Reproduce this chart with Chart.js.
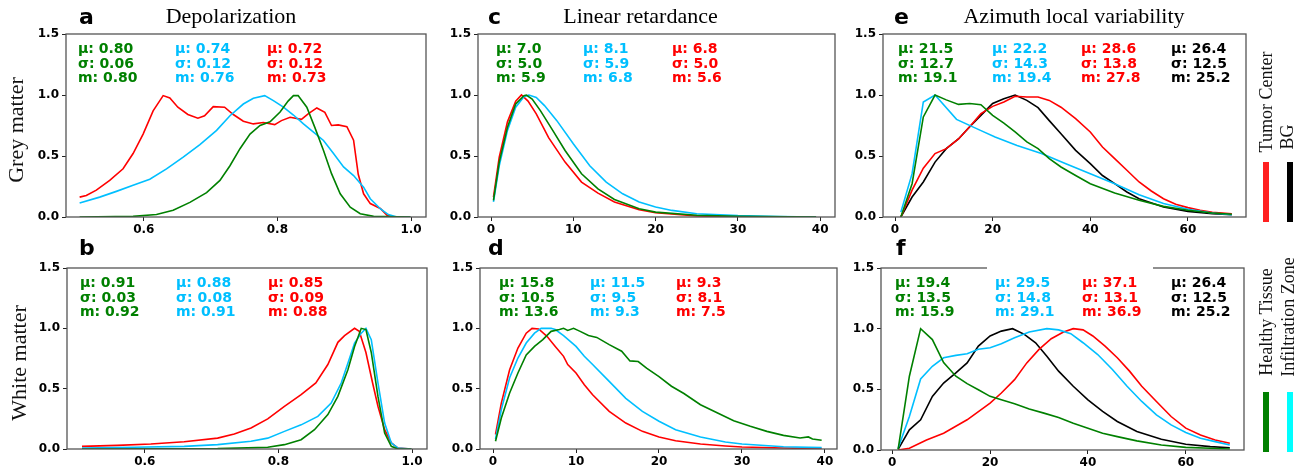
<!DOCTYPE html>
<html><head><meta charset="utf-8">
<script src="https://cdn.jsdelivr.net/npm/chart.js@4.4.0/dist/chart.umd.min.js"></script>
<style>
body{margin:0;background:#fff;width:1303px;height:468px;overflow:hidden;position:relative;}
.ann{position:absolute;font:bold 14px 'DejaVu Sans';line-height:14.4px;white-space:nowrap;z-index:3;}
.letter{position:absolute;font:bold 22px 'DejaVu Sans';line-height:22px;z-index:3;}
.title{position:absolute;font:22px 'Liberation Serif';line-height:22px;transform:translateX(-50%);white-space:nowrap;z-index:3;}
.rot{position:absolute;font-family:'Liberation Serif';line-height:1;white-space:nowrap;transform:translate(-50%,-50%) rotate(-90deg);color:#111;z-index:3;}
.bar{position:absolute;width:6px;}
.mask{position:absolute;background:#fff;z-index:2;}
</style></head><body>
<script>
// ---------- DATA ----------
const yTicks = [0, 0.5, 1.0, 1.5];
const depTicks = [0.6, 0.8, 1.0];
const retTicks = [0, 10, 20, 30, 40];
const aziTicks = [0, 20, 40, 60];

const panelLetters = ['a','b','c','d','e','f'];
const columnTitles = ['Depolarization','Linear retardance','Azimuth local variability'];
const rowLabels = ['Grey matter','White matter'];
const legendTop = ['Tumor Center','BG'];
const legendBottom = ['Healthy Tissue','Infiltration Zone'];
const statLabels = ['\u03bc','\u03c3','m'];

// stats per panel: [green, cyan, red, (black)] each [mu, sigma, median]
const statsA = [['0.80','0.06','0.80'],['0.74','0.12','0.76'],['0.72','0.12','0.73']];
const statsB = [['0.91','0.03','0.92'],['0.88','0.08','0.91'],['0.85','0.09','0.88']];
const statsC = [['7.0','5.0','5.9'],['8.1','5.9','6.8'],['6.8','5.0','5.6']];
const statsD = [['15.8','10.5','13.6'],['11.5','9.5','9.3'],['9.3','8.1','7.5']];
const statsE = [['21.5','12.7','19.1'],['22.2','14.3','19.4'],['28.6','13.8','27.8'],['26.4','12.5','25.2']];
const statsF = [['19.4','13.5','15.9'],['29.5','14.8','29.1'],['37.1','13.1','36.9'],['26.4','12.5','25.2']];

// curves: [x, normalized density]
const aGreen = [[0.504,0],[0.584,0.005],[0.619,0.02],[0.644,0.055],[0.669,0.12],[0.694,0.20],[0.714,0.30],[0.729,0.42],[0.744,0.56],[0.759,0.68],[0.774,0.75],[0.789,0.78],[0.804,0.86],[0.816,0.95],[0.824,0.995],[0.831,0.995],[0.844,0.90],[0.856,0.735],[0.869,0.545],[0.881,0.355],[0.894,0.19],[0.909,0.08],[0.924,0.027],[0.944,0.005],[0.999,0]];
const aCyan = [[0.504,0.115],[0.534,0.163],[0.559,0.21],[0.584,0.26],[0.609,0.31],[0.634,0.395],[0.659,0.49],[0.684,0.594],[0.709,0.71],[0.729,0.83],[0.749,0.926],[0.764,0.973],[0.781,0.995],[0.794,0.954],[0.809,0.90],[0.824,0.836],[0.839,0.763],[0.854,0.695],[0.869,0.627],[0.884,0.52],[0.899,0.41],[0.914,0.34],[0.929,0.245],[0.939,0.15],[0.954,0.068],[0.966,0.02],[0.979,0],[0.999,0]];
const aRed = [[0.504,0.163],[0.514,0.177],[0.529,0.22],[0.549,0.30],[0.569,0.395],[0.584,0.52],[0.599,0.68],[0.614,0.87],[0.629,0.995],[0.639,0.975],[0.651,0.90],[0.666,0.84],[0.681,0.81],[0.691,0.83],[0.704,0.905],[0.721,0.90],[0.734,0.84],[0.749,0.785],[0.764,0.763],[0.779,0.774],[0.796,0.757],[0.806,0.79],[0.819,0.817],[0.836,0.80],[0.846,0.845],[0.859,0.894],[0.871,0.858],[0.881,0.75],[0.891,0.755],[0.904,0.74],[0.914,0.63],[0.921,0.35],[0.929,0.19],[0.939,0.11],[0.954,0.07],[0.964,0.015],[0.974,0],[0.999,0]];

const bGreen = [[0.506,0],[0.709,0.003],[0.784,0.014],[0.809,0.036],[0.834,0.077],[0.854,0.16],[0.874,0.285],[0.889,0.436],[0.904,0.657],[0.914,0.85],[0.924,1.0],[0.931,0.99],[0.939,0.80],[0.949,0.436],[0.959,0.133],[0.969,0.022],[0.979,0],[0.999,0]];
const bCyan = [[0.506,0.008],[0.584,0.014],[0.659,0.022],[0.709,0.036],[0.759,0.064],[0.784,0.09],[0.809,0.146],[0.834,0.20],[0.859,0.27],[0.879,0.38],[0.894,0.547],[0.904,0.71],[0.914,0.878],[0.924,0.96],[0.931,1.0],[0.939,0.906],[0.949,0.547],[0.959,0.215],[0.969,0.05],[0.979,0.008],[0.999,0]];
const bRed = [[0.506,0.022],[0.559,0.03],[0.609,0.041],[0.659,0.06],[0.709,0.09],[0.734,0.124],[0.759,0.174],[0.784,0.25],[0.809,0.354],[0.834,0.45],[0.856,0.547],[0.874,0.70],[0.889,0.884],[0.899,0.94],[0.914,1.0],[0.921,0.975],[0.931,0.80],[0.941,0.547],[0.949,0.354],[0.959,0.16],[0.969,0.05],[0.979,0.008],[0.999,0]];

const cGreen = [[0.3,0.136],[1,0.45],[2,0.735],[3,0.926],[4,0.995],[4.3,1.0],[5,0.967],[6,0.872],[7.5,0.71],[9,0.545],[11,0.354],[13,0.23],[15,0.144],[18,0.068],[20,0.04],[25,0.014],[30,0.005],[39.5,0]];
const cCyan = [[0.3,0.123],[1,0.42],[2,0.71],[3,0.9],[4,0.986],[4.6,1.0],[5.5,0.98],[6.5,0.913],[8,0.79],[10,0.60],[12,0.42],[14,0.286],[16,0.19],[18,0.123],[20,0.082],[22,0.054],[25,0.027],[30,0.011],[35,0.003],[39.5,0]];
const cRed = [[0.3,0.163],[1,0.49],[2,0.78],[3,0.95],[3.7,1.0],[4.5,0.95],[5.5,0.845],[7,0.65],[9,0.45],[11,0.286],[13,0.196],[15,0.123],[18,0.06],[20,0.035],[25,0.008],[30,0.002],[39.5,0]];

const dGreen = [[0.3,0.064],[1,0.257],[2,0.464],[3,0.63],[4,0.78],[5,0.85],[6,0.906],[7,0.975],[8,0.99],[8.5,1.0],[9,0.983],[9.7,1.0],[10.5,0.975],[11.5,0.94],[12.5,0.925],[14,0.865],[15.5,0.81],[16.5,0.73],[17.5,0.725],[18.5,0.67],[20,0.60],[21.5,0.52],[23,0.46],[25,0.367],[27,0.30],[29,0.235],[31,0.188],[33,0.146],[35,0.113],[37,0.091],[38,0.10],[38.5,0.083],[39.6,0.072]];
const dCyan = [[0.3,0.083],[1,0.326],[2,0.59],[3,0.754],[4,0.878],[5,0.96],[5.8,1.0],[7,1.0],[7.5,0.99],[8.5,0.94],[10,0.85],[11,0.768],[12,0.70],[14,0.56],[16,0.42],[18,0.312],[20,0.23],[22,0.16],[25,0.10],[28,0.058],[30,0.041],[35,0.019],[39.6,0.011]];
const dRed = [[0.3,0.12],[1,0.38],[2,0.657],[3,0.837],[4,0.96],[4.7,1.0],[5.5,0.995],[6.5,0.934],[7.5,0.85],[8.5,0.768],[9,0.70],[10,0.63],[11,0.533],[12,0.45],[14,0.312],[16,0.215],[18,0.146],[20,0.10],[22,0.069],[25,0.041],[28,0.025],[30,0.017],[35,0.008],[39.6,0.003]];

const eGreen = [[1.2,0],[3.5,0.273],[5.8,0.82],[8.2,1.0],[10.5,0.96],[13,0.923],[15.3,0.93],[17.6,0.92],[20,0.833],[22.3,0.77],[24.6,0.697],[27,0.615],[29.3,0.56],[31.6,0.478],[34,0.41],[37,0.34],[40,0.273],[45,0.197],[50,0.137],[55,0.087],[60,0.055],[65,0.033],[69,0.022]];
const eCyan = [[1.2,0.04],[3.5,0.355],[5.8,0.943],[8.2,1.0],[12.6,0.80],[17.5,0.71],[20.5,0.656],[25,0.587],[30,0.52],[35,0.437],[40,0.355],[45,0.273],[50,0.183],[55,0.11],[60,0.063],[65,0.033],[69,0.019]];
const eRed = [[1.2,0],[3.5,0.22],[5.8,0.40],[8.2,0.52],[10.5,0.56],[13,0.64],[15.3,0.74],[17.6,0.847],[20,0.907],[22.3,0.943],[24.6,0.99],[27,0.983],[29.3,0.983],[31.6,0.956],[34,0.90],[37,0.806],[40,0.697],[42.5,0.574],[45,0.478],[47.5,0.383],[50,0.287],[52.5,0.213],[55,0.15],[57.5,0.104],[60,0.077],[62.5,0.055],[65,0.038],[69,0.027]];
const eBlack = [[1.2,0],[3.5,0.164],[5.8,0.287],[8.2,0.45],[10.5,0.56],[13,0.64],[15.3,0.74],[17.6,0.833],[20,0.93],[22.3,0.97],[24.6,1.0],[27,0.956],[29.3,0.896],[31.6,0.79],[34,0.683],[37,0.546],[40,0.437],[42.5,0.34],[45,0.273],[47.5,0.205],[50,0.15],[55,0.082],[60,0.046],[65,0.027],[69,0.019]];

const fGreen = [[1.2,0.005],[3.5,0.608],[5.8,1.0],[8.2,0.91],[10.5,0.72],[13,0.608],[15.3,0.547],[17.6,0.497],[20,0.442],[22.3,0.414],[25,0.381],[28,0.337],[31,0.304],[34,0.268],[37,0.221],[40,0.18],[43,0.138],[46,0.11],[50,0.075],[55,0.041],[60,0.022],[65,0.014],[69,0.008]];
const fCyan = [[1.2,0.014],[3.5,0.276],[5.8,0.586],[8.2,0.69],[10.5,0.76],[13,0.78],[15.3,0.793],[17.6,0.83],[20,0.843],[22.3,0.876],[25,0.925],[28,0.972],[31.6,1.0],[34,0.99],[36.5,0.959],[39,0.884],[42,0.787],[45,0.663],[48,0.525],[51,0.40],[54,0.29],[57,0.207],[60,0.144],[63,0.097],[66,0.069],[69,0.041]];
const fRed = [[1.2,0],[3.5,0.014],[7,0.083],[10.5,0.138],[15.3,0.249],[20,0.387],[22.3,0.47],[25,0.58],[27.5,0.718],[30,0.829],[32.5,0.917],[35,0.972],[37,1.0],[39,0.99],[41,0.94],[43.5,0.856],[46,0.76],[48.5,0.65],[51,0.525],[54,0.40],[57,0.276],[60,0.18],[63,0.124],[66,0.083],[69,0.055]];
const fBlack = [[1.2,0.005],[3.5,0.166],[5.8,0.249],[8.2,0.442],[10.5,0.552],[13,0.635],[15.3,0.718],[17.6,0.856],[20,0.94],[22.3,0.98],[24.6,1.0],[27,0.953],[29.3,0.884],[31.6,0.773],[34,0.65],[37,0.525],[40,0.414],[43,0.318],[46,0.235],[50,0.152],[55,0.088],[60,0.047],[65,0.028],[69,0.019]];

// ---------- STYLE ----------
const GREEN='#008000', CYAN='#00BFFF', RED='#FF0000', BLACK='#000000';
const statColors = [GREEN, CYAN, RED, BLACK];

const framePlugin = {
  id:'frame',
  afterDraw(chart){
    const a = chart.chartArea, ctx = chart.ctx;
    ctx.save(); ctx.strokeStyle='#555'; ctx.lineWidth=1.3;
    ctx.strokeRect(a.left, a.top, a.right-a.left, a.bottom-a.top);
    ctx.restore();
  }
};

function addPanel(rect, xr, xt, xfmt, series){
  const [L,T,R,B] = rect;
  const PL=50, PT=12, PR=16, PB=26;
  const W=R-L+PL+PR, H=B-T+PT+PB;
  const cv=document.createElement('canvas');
  cv.width=W; cv.height=H;
  cv.style.cssText=`position:absolute;left:${L-PL}px;top:${T-PT}px;width:${W}px;height:${H}px;z-index:1`;
  document.body.appendChild(cv);
  const tickFont={family:'DejaVu Sans', weight:'bold', size:12};
  const grid={drawOnChartArea:false, drawTicks:true, tickLength:4, color:'#222', lineWidth:1};
  new Chart(cv,{
    type:'line',
    data:{datasets:series.map(s=>({data:s[0].map(p=>({x:p[0],y:p[1]})),borderColor:s[1],borderWidth:1.6,pointRadius:0,tension:0,fill:false}))},
    options:{
      responsive:false, animation:false, devicePixelRatio:1, events:[],
      layout:{padding:{left:0,top:PT,right:PR,bottom:0}},
      plugins:{legend:{display:false},tooltip:{enabled:false}},
      scales:{
        x:{type:'linear',min:xr[0],max:xr[1],
           afterFit:s=>{s.height=PB;},
           afterBuildTicks:s=>{s.ticks=xt.map(v=>({value:v}));},
           ticks:{callback:v=>xfmt(v),font:tickFont,color:'#000',padding:2,maxRotation:0,autoSkip:false},
           grid:grid, border:{display:false}},
        y:{type:'linear',min:0,max:1.5,
           afterFit:s=>{s.width=PL;},
           afterBuildTicks:s=>{s.ticks=yTicks.map(v=>({value:v}));},
           ticks:{callback:v=>v.toFixed(1),font:tickFont,color:'#000',padding:3,autoSkip:false},
           grid:grid, border:{display:false}}
      }
    },
    plugins:[framePlugin]
  });
}

const fmt1 = v=>v.toFixed(1);
const fmt0 = v=>String(Math.round(v));

addPanel([66,34,426,217],[0.4836,1.0224],depTicks,fmt1,[[aGreen,GREEN],[aCyan,CYAN],[aRed,RED]]);
addPanel([67,268,427,449],[0.4836,1.0224],depTicks,fmt1,[[bGreen,GREEN],[bCyan,CYAN],[bRed,RED]]);
addPanel([478,34,835,217],[-1.58,41.8],retTicks,fmt0,[[cGreen,GREEN],[cCyan,CYAN],[cRed,RED]]);
addPanel([480,268,837,449],[-1.57,41.45],retTicks,fmt0,[[dGreen,GREEN],[dCyan,CYAN],[dRed,RED]]);
addPanel([883,34,1246,217],[-2.46,71.9],aziTicks,fmt0,[[eGreen,GREEN],[eCyan,CYAN],[eRed,RED],[eBlack,BLACK]]);
addPanel([881,268,1244,450],[-2.3,71.9],aziTicks,fmt0,[[fGreen,GREEN],[fCyan,CYAN],[fRed,RED],[fBlack,BLACK]]);

// ---------- TEXT ----------
function el(cls, txt, css){
  const d=document.createElement('div'); d.className=cls; d.textContent=txt; d.style.cssText+=css; document.body.appendChild(d); return d;
}
function stats(st, xs, baseline){
  st.forEach((s,i)=>{
    const d=document.createElement('div'); d.className='ann';
    d.style.left=xs[i]+'px'; d.style.top=(baseline-12.05)+'px'; d.style.color=statColors[i];
    d.innerHTML=s.map((v,k)=>statLabels[k]+': '+v).join('<br>');
    document.body.appendChild(d);
  });
}
// white mask in panel f
el('mask','', 'left:987px;top:264px;width:166px;height:54px;');

stats(statsA,[78,175,267],53.3);
stats(statsB,[80,176,268],287.3);
stats(statsC,[496,583,672],53.3);
stats(statsD,[499,590,676],287.3);
stats(statsE,[898,992,1081,1171],53.3);
stats(statsF,[895,995,1082,1171],287.3);

const letterPos=[[79,25],[79,256],[488,25],[488,256],[894,25],[896,256]];
panelLetters.forEach((t,i)=>el('letter',t,`left:${letterPos[i][0]}px;top:${letterPos[i][1]-18.6}px;`));
const titleX=[231,640.5,1074];
columnTitles.forEach((t,i)=>el('title',t,`left:${titleX[i]}px;top:${23.3-18.4}px;`));
el('rot',rowLabels[0],`left:15.6px;top:129.5px;font-size:22px;`);
el('rot',rowLabels[1],`left:19px;top:362.5px;font-size:22px;`);
el('rot',legendTop[0],`left:1265.8px;top:101.5px;font-size:18px;`);
el('rot',legendTop[1],`left:1287px;top:136.5px;font-size:18px;`);
el('rot',legendBottom[0],`left:1265.7px;top:321.5px;font-size:18px;`);
el('rot',legendBottom[1],`left:1288px;top:316.5px;font-size:18px;`);
el('bar','','left:1263px;top:162px;height:60px;background:#ff2020;');
el('bar','','left:1287px;top:162px;height:60px;background:#000;');
el('bar','','left:1263px;top:392px;height:60px;background:#008000;');
el('bar','','left:1287px;top:392px;height:60px;background:#00ffff;');
</script>
</body></html>
